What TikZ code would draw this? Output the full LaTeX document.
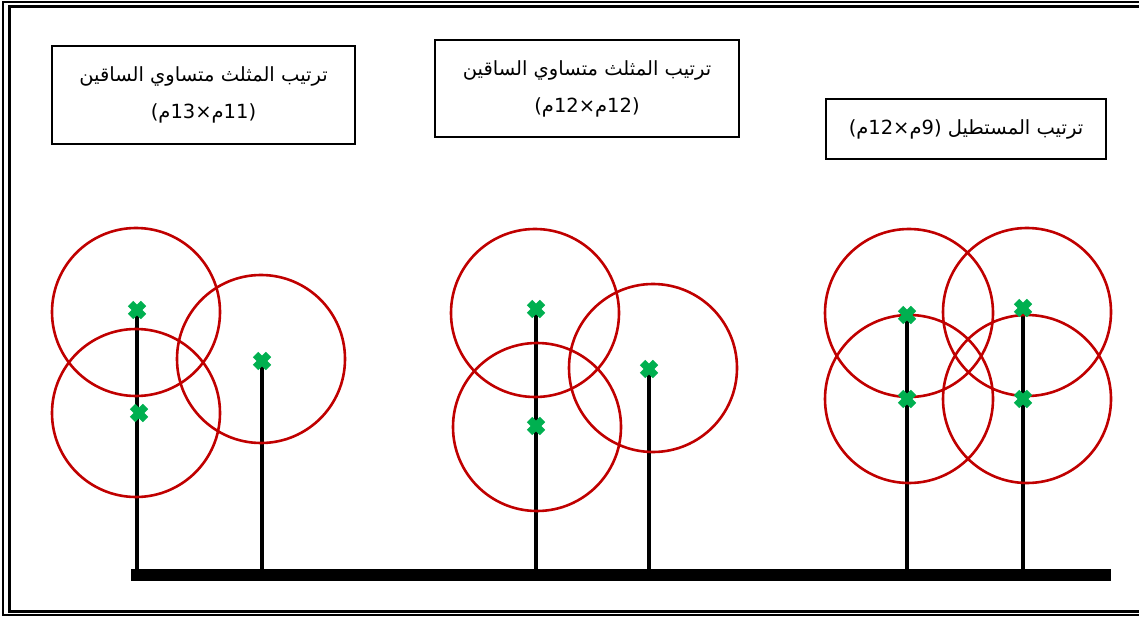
\documentclass[tikz,border=0pt]{standalone}
\usepackage{fontspec}
\usetikzlibrary{calc}
\newfontfamily\arabicfont[Script=Arabic]{DejaVu Sans}
\TeXXeTstate=1
\definecolor{ringred}{HTML}{C00000}
\definecolor{markgreen}{HTML}{00B050}

\begin{document}
\begin{tikzpicture}[
    x=1pt, y=-1pt,
    caption/.style={draw=black, line width=1.6pt, fill=white, align=center, inner sep=0pt,
      font=\arabicfont\fontsize{19.5}{37}\selectfont},
    ring/.style={draw=ringred, line width=2.6pt},
    stem/.style={draw=black, line width=3.2pt},
    ground/.style={fill=black, inner sep=0pt, minimum width=980pt, minimum height=12pt},
    plantmark/.style={draw=markgreen, line width=7.5pt}
  ]
    \useasboundingbox (0,0) rectangle (1139,617);
    % double frame, right side runs off the page
    \draw[line width=1.5pt] (3,2) rectangle (1150,615);
    \draw[line width=3pt] (9,7) rectangle (1146,611);

    % captions
    \node[caption, minimum width=303pt, minimum height=98pt] (cap1) at (203.5,95)
      {\beginR ترتيب المثلث متساوي الساقين\endR\\
       \beginR(\beginL 11\endL م×\beginL 13\endL م)\endR};
    \node[caption, minimum width=304pt, minimum height=97pt] (cap2) at (587,88.5)
      {\beginR ترتيب المثلث متساوي الساقين\endR\\
       \beginR(\beginL 12\endL م×\beginL 12\endL م)\endR};
    \node[caption, minimum width=280pt, minimum height=60pt] (cap3) at (966,129)
      {\beginR ترتيب المستطيل (\beginL 9\endL م×\beginL 12\endL م)\endR};

    % ground bar
    \node[ground] (gnd) at (621,575) {};

    % plant positions
    \coordinate (a1) at (137,310);
    \coordinate (a2) at (139,413);
    \coordinate (a3) at (262,361);
    \coordinate (b1) at (536,309);
    \coordinate (b2) at (536,426);
    \coordinate (b3) at (649,369);
    \coordinate (c1) at (907,315);
    \coordinate (c2) at (907,399);
    \coordinate (c3) at (1023,308);
    \coordinate (c4) at (1023,399);

    % stems
    \foreach \p in {a1,a3,b1,b3,c1,c3}
      \draw[stem] (\p) -- (\p |- gnd.north);

    % canopies
    \draw[ring] (136,312) circle[radius=84];
    \draw[ring] (136,413) circle[radius=84];
    \draw[ring] (261,359) circle[radius=84];
    \draw[ring] (535,313) circle[radius=84];
    \draw[ring] (537,427) circle[radius=84];
    \draw[ring] (653,368) circle[radius=84];
    \draw[ring] (909,313) circle[radius=84];
    \draw[ring] (1027,312) circle[radius=84];
    \draw[ring] (909,399) circle[radius=84];
    \draw[ring] (1027,399) circle[radius=84];

    % markers
    \foreach \p in {a1,a2,a3,b1,b2,b3,c1,c2,c3,c4} {
      \draw[plantmark] ($(\p)+(-6.5,-6.5)$) -- ($(\p)+(6.5,6.5)$);
      \draw[plantmark] ($(\p)+(-6.5,6.5)$) -- ($(\p)+(6.5,-6.5)$);
    }
  \end{tikzpicture}
\end{document}
